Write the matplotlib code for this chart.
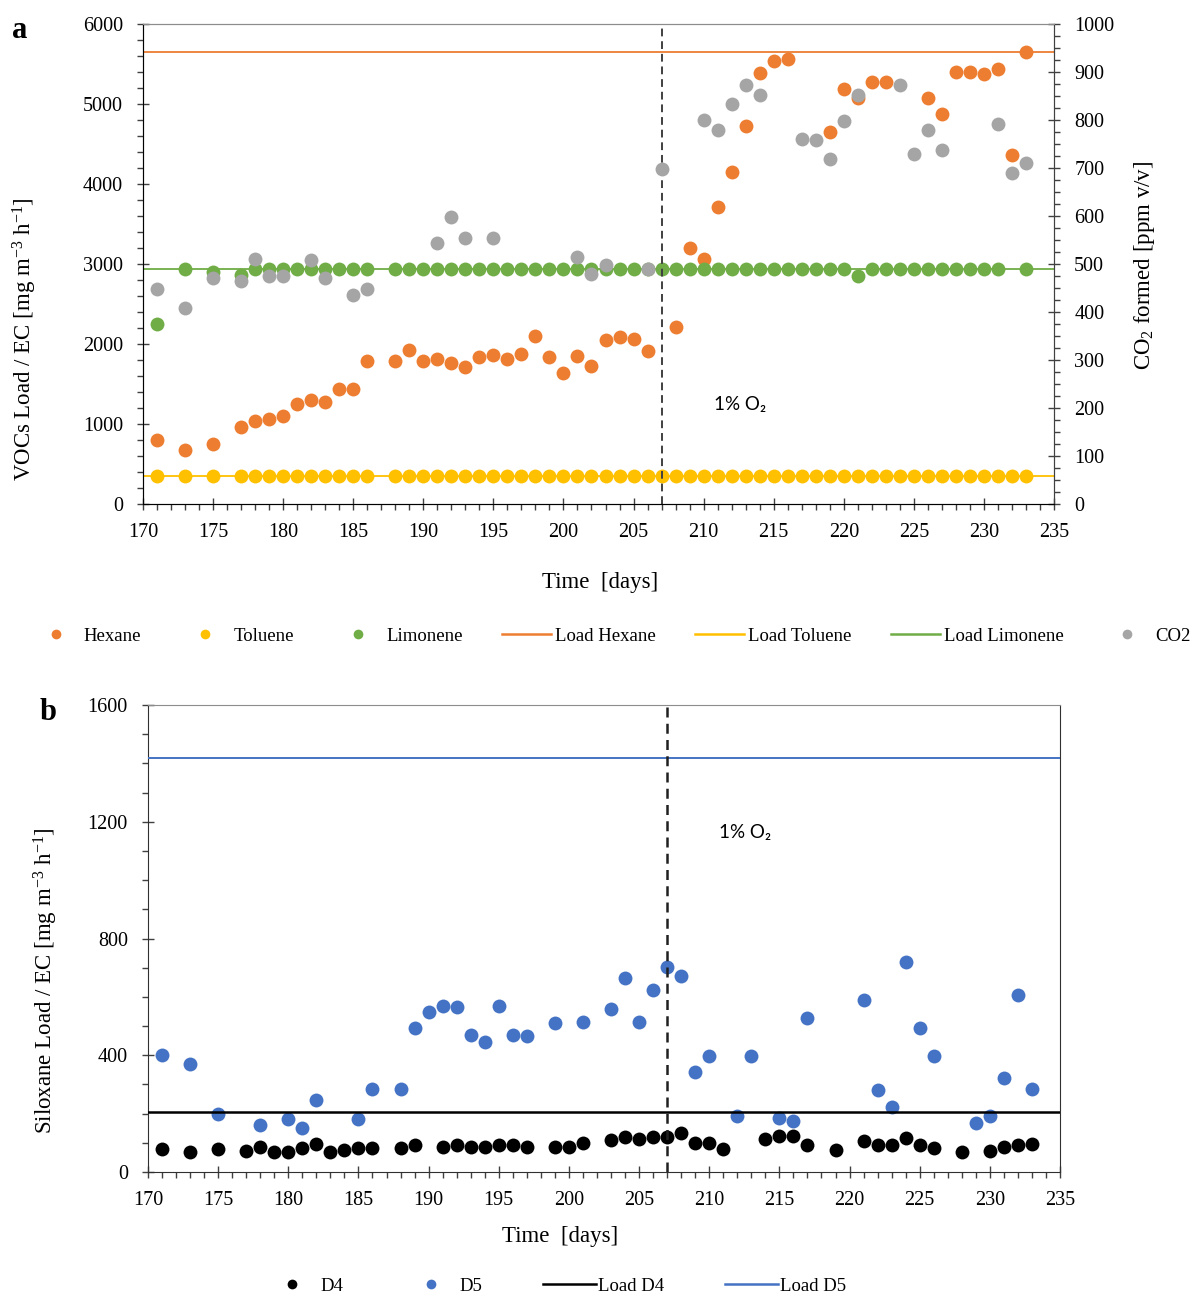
import matplotlib
matplotlib.use('Agg')
import matplotlib.pyplot as plt
from matplotlib.ticker import MultipleLocator
from matplotlib.lines import Line2D

plt.rcParams['font.family'] = ['Liberation Serif', 'DejaVu Serif']
plt.rcParams['mathtext.fontset'] = 'custom'
plt.rcParams['mathtext.rm'] = 'Liberation Serif'
plt.rcParams['mathtext.it'] = 'Liberation Serif:italic'

# ---------------- Panel a data ----------------
hex_days = [171, 173, 175, 177, 178, 179, 180, 181, 182, 183, 184, 185, 186,
            188, 189, 190, 191, 192, 193, 194, 195, 196, 197, 198, 199, 200,
            201, 202, 203, 204, 205, 206, 208, 209, 210, 211, 212, 213, 214,
            215, 216, 219, 220, 221, 222, 223, 226, 227, 228, 229, 230, 231,
            232, 233]
hexane = [805, 670, 750, 962, 1037, 1058, 1104, 1250, 1300, 1271, 1433, 1433, 1792,
          1792, 1925, 1792, 1808, 1767, 1717, 1833, 1862, 1808, 1875, 2104, 1842, 1642,
          1850, 1729, 2050, 2092, 2067, 1912, 2208, 3196, 3058, 3712, 4154, 4725, 5383,
          5537, 5562, 4650, 5187, 5071, 5275, 5275, 5071, 4875, 5396, 5396, 5375, 5433,
          4358, 5650]

tol_days = [171, 173, 175, 177, 178, 179, 180, 181, 182, 183, 184, 185, 186,
            188, 189, 190, 191, 192, 193, 194, 195, 196, 197, 198, 199, 200,
            201, 202, 203, 204, 205, 206, 207, 208, 209, 210, 211, 212, 213,
            214, 215, 216, 217, 218, 219, 220, 221, 222, 223, 224, 225, 226,
            227, 228, 229, 230, 231, 232, 233]
toluene = [354, 354, 354, 354, 354, 354, 354, 354, 354, 354, 354, 354, 354,
           354, 354, 354, 354, 354, 354, 354, 354, 354, 354, 354, 354, 354,
           354, 354, 354, 354, 354, 354, 354, 354, 354, 354, 354, 354, 354,
           354, 354, 354, 354, 354, 354, 354, 354, 354, 354, 354, 354, 354,
           354, 354, 354, 354, 354, 354, 354]

lim_days = [171, 173, 175, 177, 178, 179, 180, 181, 182, 183, 184, 185, 186,
            188, 189, 190, 191, 192, 193, 194, 195, 196, 197, 198, 199, 200,
            201, 202, 203, 204, 205, 206, 207, 208, 209, 210, 211, 212, 213,
            214, 215, 216, 217, 218, 219, 220, 221, 222, 223, 224, 225, 226,
            227, 228, 229, 230, 231, 233]
limonene = [2250, 2933, 2904, 2862, 2933, 2933, 2933, 2933, 2933, 2933, 2933, 2933, 2933,
            2933, 2933, 2933, 2933, 2933, 2933, 2933, 2933, 2933, 2933, 2933, 2933, 2933,
            2933, 2933, 2933, 2933, 2933, 2933, 2933, 2933, 2933, 2933, 2933, 2933, 2933,
            2933, 2933, 2933, 2933, 2933, 2933, 2933, 2850, 2933, 2933, 2933, 2933, 2933,
            2933, 2933, 2933, 2933, 2933, 2933]

co2_days = [171, 173, 175, 177, 178, 179, 180, 182, 183, 185, 186, 191, 192, 193,
            195, 201, 202, 203, 206, 207, 210, 211, 212, 213, 214, 217, 218, 219,
            220, 221, 224, 225, 226, 227, 231, 232, 233]
co2 = [448, 408, 470, 464, 510, 476, 476, 508, 470, 435, 447, 544, 598, 554,
       554, 515, 479, 498, 490, 698, 801, 779, 833, 872, 853, 760, 758, 719,
       797, 853, 872, 730, 779, 738, 791, 690, 710]

load_hexane = 5650
load_toluene = 354
load_limonene = 2933

# ---------------- Panel b data ----------------
d5_days = [171, 173, 175, 178, 180, 181, 182, 185, 186, 188, 189, 190, 191, 192,
           193, 194, 195, 196, 197, 199, 201, 203, 204, 205, 206, 207, 208, 209,
           210, 212, 213, 215, 216, 217, 221, 222, 223, 224, 225, 226, 229, 230,
           231, 232, 233]
d5 = [401, 371, 199, 160, 183, 150, 245, 182, 283, 283, 495, 547, 569, 566,
      470, 447, 570, 470, 465, 510, 514, 559, 664, 513, 622, 703, 672, 341,
      398, 192, 399, 186, 175, 527, 588, 281, 221, 718, 495, 397, 167, 192,
      321, 606, 283]

d4_days = [171, 173, 175, 177, 178, 179, 180, 181, 182, 183, 184, 185, 186, 188,
           189, 191, 192, 193, 194, 195, 196, 197, 199, 200, 201, 203, 204, 205,
           206, 207, 208, 209, 210, 211, 214, 215, 216, 217, 219, 221, 222, 223,
           224, 225, 226, 228, 230, 231, 232, 233]
d4 = [78, 67, 78, 73, 85, 69, 67, 82, 97, 70, 77, 83, 82, 81,
      93, 87, 94, 87, 87, 94, 93, 85, 85, 87, 98, 108, 120, 112,
      120, 119, 135, 99, 99, 80, 114, 122, 122, 93, 77, 105, 93, 93,
      117, 93, 82, 70, 73, 85, 94, 97]

load_d4 = 204
load_d5 = 1417

o2_day = 207
o2_label = '1% O\u2082'

# colours
C_HEX = '#ED7D31'
C_TOL = '#FFC000'
C_LIM = '#70AD47'
C_CO2 = '#A5A5A5'
C_D5 = '#4472C4'
C_D4 = '#000000'

W, H = 1197, 1298
fig = plt.figure(figsize=(W / 100, H / 100), dpi=100)

TICK_FS = 14.5
LAB_FS = 16.5
MS = 10


def style_axis(ax):
    ax.tick_params(axis='both', which='major', direction='inout', length=9,
                   width=1, labelsize=TICK_FS, color='#404040')
    ax.tick_params(axis='both', which='minor', direction='out', length=4,
                   width=1, color='#404040')
    ax.tick_params(axis='x', which='major', pad=9.5)
    ax.tick_params(axis='y', which='major', pad=10)
    for lab in ax.get_xticklabels() + ax.get_yticklabels():
        lab.set_fontfamily(['Liberation Serif', 'DejaVu Serif'])


# ---------------- Panel a ----------------
axA = fig.add_axes([143 / W, 1 - 504 / H, 911 / W, 480 / H])
axA.set_xlim(170, 235)
axA.set_ylim(0, 6000)
axA.xaxis.set_major_locator(MultipleLocator(5))
axA.xaxis.set_minor_locator(MultipleLocator(1))
axA.yaxis.set_major_locator(MultipleLocator(1000))
axA.yaxis.set_minor_locator(MultipleLocator(200))
style_axis(axA)
for s in ['left', 'bottom', 'right']:
    axA.spines[s].set_color('#404040')
axA.spines['top'].set_color('#8c8c8c')

axA.axhline(load_hexane, color=C_HEX, lw=1.3, zorder=2)
axA.axhline(load_toluene, color=C_TOL, lw=1.3, zorder=2)
axA.axhline(load_limonene, color=C_LIM, lw=1.3, zorder=2)
axA.plot(hex_days, hexane, 'o', color=C_HEX, ms=MS, mec='none', zorder=3)
axA.plot(tol_days, toluene, 'o', color=C_TOL, ms=MS, mec='none', zorder=3)
axA.plot(lim_days, limonene, 'o', color=C_LIM, ms=MS, mec='none', zorder=3)
axA.axvline(o2_day, color='#404040', lw=1.4, ls=(0, (4, 2.5)), zorder=4)
axA.text(212.6, 1250, o2_label, fontsize=13.5, ha='center', va='center',
         family=['Lato', 'Noto Sans', 'DejaVu Sans'])

axA.set_xlabel('Time  [days]', fontsize=LAB_FS)
axA.xaxis.set_label_coords(0.502, -0.1426)
axA.set_ylabel('VOCs Load / EC [mg m$^{-3}$ h$^{-1}$]', fontsize=LAB_FS)
axA.yaxis.set_label_coords(-0.114, 0.344)

axA2 = axA.twinx()
axA2.set_ylim(0, 1000)
axA2.yaxis.set_major_locator(MultipleLocator(100))
axA2.yaxis.set_minor_locator(MultipleLocator(25))
style_axis(axA2)
axA2.spines['right'].set_color('#404040')
axA2.spines['top'].set_color('#8c8c8c')
axA2.plot(co2_days, co2, 'o', color=C_CO2, ms=MS, mec='none', zorder=3)
axA2.set_ylabel('CO$_2$ formed [ppm v/v]', fontsize=LAB_FS)
axA2.yaxis.set_label_coords(1.086, 0.498)

fig.text(20 / W, 1 - 30 / H, 'a', fontsize=22, fontweight='bold',
         ha='center', va='center')

hA = [Line2D([], [], ls='none', marker='o', color=C_HEX, ms=7, mec='none'),
      Line2D([], [], ls='none', marker='o', color=C_TOL, ms=7, mec='none'),
      Line2D([], [], ls='none', marker='o', color=C_LIM, ms=7, mec='none'),
      Line2D([], [], color=C_HEX, lw=1.8),
      Line2D([], [], color=C_TOL, lw=1.8),
      Line2D([], [], color=C_LIM, lw=1.8),
      Line2D([], [], ls='none', marker='o', color=C_CO2, ms=7, mec='none')]
lA = ['Hexane', 'Toluene', 'Limonene', 'Load Hexane', 'Load Toluene',
      'Load Limonene', 'CO2']
fig.legend(hA, lA, loc='center', bbox_to_anchor=(611 / W, 1 - 636 / H),
           ncol=7, frameon=False, fontsize=13.5, handlelength=2.6,
           handletextpad=0.2, columnspacing=2.12, borderpad=0.2)

# ---------------- Panel b ----------------
axB = fig.add_axes([148 / W, 1 - 1172 / H, 912 / W, 467 / H])
axB.set_xlim(170, 235)
axB.set_ylim(0, 1600)
axB.xaxis.set_major_locator(MultipleLocator(5))
axB.xaxis.set_minor_locator(MultipleLocator(1))
axB.yaxis.set_major_locator(MultipleLocator(400))
axB.yaxis.set_minor_locator(MultipleLocator(100))
style_axis(axB)
for s in ['left', 'bottom', 'right']:
    axB.spines[s].set_color('#303030')
axB.spines['top'].set_color('#8c8c8c')

axB.plot(d5_days, d5, 'o', color=C_D5, ms=MS, mec='none', zorder=3)
axB.plot(d4_days, d4, 'o', color=C_D4, ms=MS, mec='none', zorder=3)
axB.axhline(load_d5, color=C_D5, lw=1.4, zorder=4)
axB.axhline(load_d4, color=C_D4, lw=1.8, zorder=4)
axB.axvline(o2_day, color='#202020', lw=1.8, ls=(0, (4, 2.5)), zorder=5)
axB.text(212.55, 1163, o2_label, fontsize=13.5, ha='center', va='center',
         family=['Lato', 'Noto Sans', 'DejaVu Sans'])

axB.set_xlabel('Time  [days]', fontsize=LAB_FS)
axB.xaxis.set_label_coords(0.452, -0.1157)
axB.set_ylabel('Siloxane Load / EC [mg m$^{-3}$ h$^{-1}$]', fontsize=LAB_FS)
axB.yaxis.set_label_coords(-0.0965, 0.409)

fig.text(48 / W, 1 - 712 / H, 'b', fontsize=22, fontweight='bold',
         ha='center', va='center')

hB = [Line2D([], [], ls='none', marker='o', color=C_D4, ms=7, mec='none'),
      Line2D([], [], ls='none', marker='o', color=C_D5, ms=7, mec='none'),
      Line2D([], [], color=C_D4, lw=1.8),
      Line2D([], [], color=C_D5, lw=1.8)]
lB = ['D4', 'D5', 'Load D4', 'Load D5']
fig.legend(hB, lB, loc='center', bbox_to_anchor=(556 / W, 1 - 1286 / H),
           ncol=4, frameon=False, fontsize=13.5, handlelength=2.8,
           handletextpad=0.15, columnspacing=3.23, borderpad=0.2)

fig.savefig('out.png', dpi=100)
